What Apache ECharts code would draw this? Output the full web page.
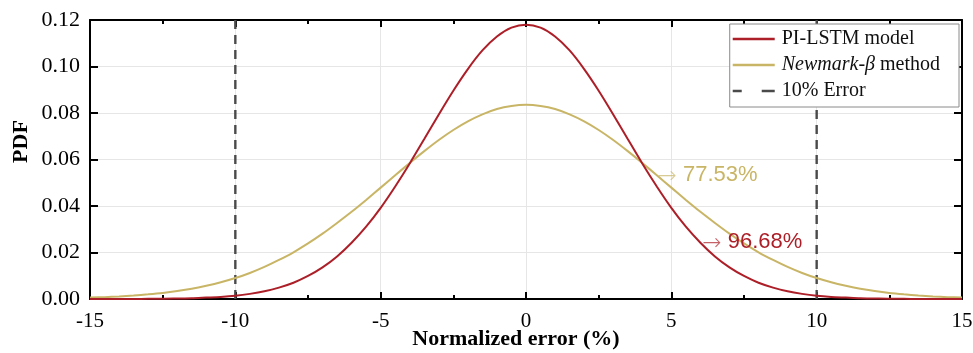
<!DOCTYPE html>
<html><head><meta charset="utf-8">
<script src="https://cdn.jsdelivr.net/npm/echarts@6/dist/echarts.min.js"></script>
<style>html,body{margin:0;padding:0;background:#fff}#c{width:973px;height:353px}</style>
</head><body><div id="c"></div>
<script>
const xValues = [-15,-14.5,-14,-13.5,-13,-12.5,-12,-11.5,-11,-10.5,-10,-9.5,-9,-8.5,-8,-7.5,-7,-6.5,-6,-5.5,-5,-4.5,-4,-3.5,-3,-2.5,-2,-1.5,-1,-0.5,0,0.5,1,1.5,2,2.5,3,3.5,4,4.5,5,5.5,6,6.5,7,7.5,8,8.5,9,9.5,10,10.5,11,11.5,12,12.5,13,13.5,14,14.5,15];
const piLstm = [0,0,0,0,0.0001,0.0001,0.0002,0.0003,0.0006,0.0009,0.0014,0.0022,0.0033,0.0049,0.0070,0.0099,0.0136,0.0183,0.0242,0.0311,0.0392,0.0484,0.0583,0.0688,0.0794,0.0896,0.0989,0.1069,0.1129,0.1167,0.1180,0.1167,0.1129,0.1069,0.0989,0.0896,0.0794,0.0688,0.0583,0.0484,0.0392,0.0311,0.0242,0.0183,0.0136,0.0099,0.0070,0.0049,0.0033,0.0022,0.0014,0.0009,0.0006,0.0003,0.0002,0.0001,0.0001,0,0,0,0];
const newmark = [0.0006,0.0008,0.0011,0.0015,0.0020,0.0026,0.0034,0.0044,0.0057,0.0072,0.0090,0.0112,0.0138,0.0168,0.0201,0.0239,0.0281,0.0327,0.0375,0.0426,0.0479,0.0532,0.0585,0.0636,0.0684,0.0727,0.0764,0.0794,0.0817,0.0830,0.0835,0.0830,0.0817,0.0794,0.0764,0.0727,0.0684,0.0636,0.0585,0.0532,0.0479,0.0426,0.0375,0.0327,0.0281,0.0239,0.0201,0.0168,0.0138,0.0112,0.0090,0.0072,0.0057,0.0044,0.0034,0.0026,0.0020,0.0015,0.0011,0.0008,0.0006];
const errorBounds = [-10, 10];
const yRange = [0, 0.12];
const seriesNames = ['PI-LSTM model', 'Newmark-β method', '10% Error'];
const annotations = [
  {text: '77.53%', x: 4.51, y: 0.0533, series: 1},
  {text: '96.68%', x: 6.05, y: 0.0245, series: 0}
];

const RED = '#AD1F28', GOLD = '#C9B566', DASH = '#4a4a4a';
const serif = '"Liberation Serif","Times New Roman",serif';
const sans = '"Liberation Sans",Arial,sans-serif';

const pairs = (xs, ys) => xs.map((x, i) => [x, ys[i]]);
const errData = [];
errorBounds.forEach((b, i) => {
  if (i > 0) errData.push(['-', '-']);
  errData.push([b, yRange[0]], [b, yRange[1]]);
});

function annMark(idx, color) {
  const items = annotations.filter(a => a.series === idx).map(a => ({
    coord: [a.x, a.y], value: a.text,
    label: {
      show: true, position: 'right', distance: 0,
      formatter: '{a|→}{b| ' + a.text + '}',
      rich: {
        a: {color: color, opacity: 0.7, fontSize: 23, fontFamily: '"DejaVu Sans",sans-serif', fontWeight: 'lighter', padding: [3, 0, 0, 0]},
        b: {color: color, fontSize: 22, fontFamily: sans}
      }
    }
  }));
  return {symbol: 'circle', symbolSize: 1, silent: true,
    itemStyle: {color: 'rgba(0,0,0,0)'}, data: items};
}

const chart = echarts.init(document.getElementById('c'), null, {renderer: 'canvas'});
const gridLine = {show: true, lineStyle: {color: '#e6e6e6', width: 1}};
chart.setOption({
  animation: false,
  backgroundColor: '#fff',
  grid: {left: 90, right: 11, top: 20, bottom: 54, containLabel: false, outerBoundsMode: 'none'},
  legend: {
    right: 14, top: 24, orient: 'vertical',
    itemWidth: 42, itemHeight: 2.5, itemGap: 6,
    padding: [5, 19, 6, 3],
    borderColor: '#8a8a8a', borderWidth: 1, backgroundColor: '#fff', borderRadius: 0,
    textStyle: {fontFamily: serif, fontSize: 20, color: '#111', padding: [0, 0, 0, 2],
      rich: {i: {fontFamily: serif, fontSize: 20, fontStyle: 'italic', color: '#111'},
             n: {fontFamily: serif, fontSize: 20, color: '#111'}}},
    formatter: name => name === 'Newmark-β method' ? '{i|Newmark-β}{n| method}' : name,
    data: [
      {name: seriesNames[0], icon: 'rect'},
      {name: seriesNames[1], icon: 'rect'},
      {name: seriesNames[2], icon: 'path://M0,0h9v2.5h-9z M29,0h13v2.5h-13z'}
    ]
  },
  xAxis: [{
    type: 'value', min: -15, max: 15, interval: 5,
    name: 'Normalized error (%)', nameLocation: 'middle', nameGap: 29, nameMoveOverlap: false,
    nameTextStyle: {fontFamily: serif, fontSize: 22, fontWeight: 'bold', color: '#000', padding: [0, 20, 0, 0]},
    axisLine: {show: true, onZero: false, lineStyle: {color: '#000', width: 2}},
    axisTick: {show: true, inside: true, length: 7, lineStyle: {color: '#000', width: 2}},
    minorTick: {show: true, splitNumber: 2, length: 4, lineStyle: {color: '#000', width: 2}},
    axisLabel: {fontFamily: serif, fontSize: 21, color: '#000', margin: 12},
    splitLine: gridLine
  }, {
    type: 'value', position: 'top', min: -15, max: 15, interval: 5,
    axisLine: {show: true, onZero: false, lineStyle: {color: '#000', width: 2}},
    axisTick: {show: true, inside: true, length: 7, lineStyle: {color: '#000', width: 2}},
    minorTick: {show: true, splitNumber: 2, length: 4, lineStyle: {color: '#000', width: 2}},
    axisLabel: {show: false}, splitLine: {show: false}
  }],
  yAxis: [{
    type: 'value', min: yRange[0], max: yRange[1], interval: 0.02,
    name: 'PDF', nameLocation: 'middle', nameGap: 58, nameRotate: 90, nameMoveOverlap: false,
    nameTextStyle: {fontFamily: serif, fontSize: 22, fontWeight: 'bold', color: '#000', padding: [0, 0, 0, 36]},
    axisLine: {show: true, onZero: false, lineStyle: {color: '#000', width: 2}},
    axisTick: {show: true, inside: true, length: 8, lineStyle: {color: '#000', width: 2}},
    axisLabel: {fontFamily: serif, fontSize: 22, color: '#000', margin: 10,
      formatter: v => v.toFixed(2)},
    splitLine: gridLine
  }, {
    type: 'value', position: 'right', min: yRange[0], max: yRange[1], interval: 0.02,
    axisLine: {show: true, onZero: false, lineStyle: {color: '#000', width: 2}},
    axisTick: {show: true, inside: true, length: 8, lineStyle: {color: '#000', width: 2}},
    axisLabel: {show: false}, splitLine: {show: false}
  }],
  series: [{
    name: seriesNames[2], type: 'line', data: errData, symbol: 'none', connectNulls: false,
    lineStyle: {color: DASH, width: 2.4, type: [9, 6]}, itemStyle: {color: DASH}, z: 1
  }, {
    name: seriesNames[0], type: 'line', data: pairs(xValues, piLstm), symbol: 'none', smooth: 0.25,
    lineStyle: {color: RED, width: 2}, itemStyle: {color: RED}, z: 3,
    markPoint: annMark(0, RED)
  }, {
    name: seriesNames[1], type: 'line', data: pairs(xValues, newmark), symbol: 'none', smooth: 0.25,
    lineStyle: {color: GOLD, width: 2}, itemStyle: {color: GOLD}, z: 2,
    markPoint: annMark(1, GOLD)
  }]
});
</script>
</body></html>
